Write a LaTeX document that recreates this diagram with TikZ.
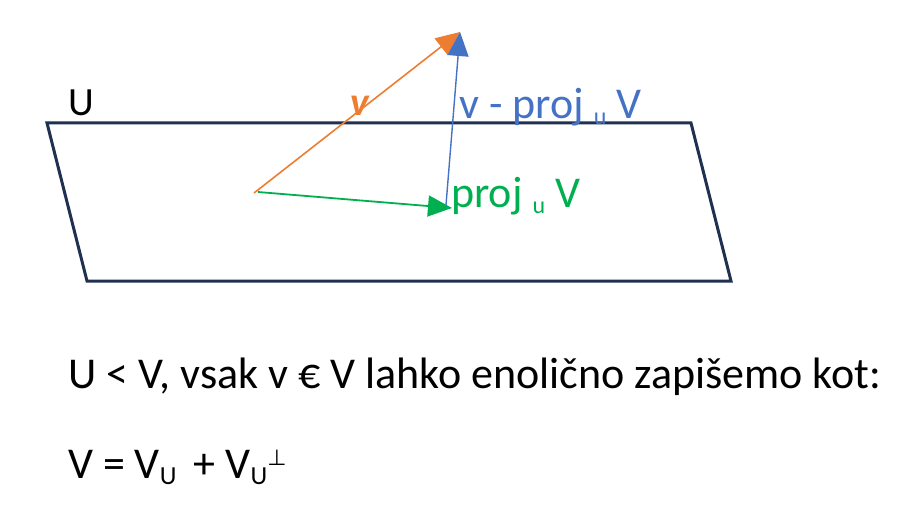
\documentclass[tikz,border=0pt]{standalone}
\usepackage{fontspec}
\setmainfont{Carlito}
\newfontfamily\symfont{DejaVu Sans}
\usetikzlibrary{arrows.meta}

\definecolor{planeblue}{RGB}{31,48,80}
\definecolor{vorange}{RGB}{237,125,49}
\definecolor{vblue}{RGB}{68,114,196}
\definecolor{vgreen}{RGB}{0,176,80}

\newcommand{\bigtext}{\fontsize{44pt}{52pt}\selectfont}
\newcommand{\lowsub}[1]{\raisebox{-6pt}{\fontsize{24pt}{26pt}\selectfont #1}}

\tikzset{
  lbl/.style={inner sep=0pt, anchor=base west, font=\bigtext},
  vec/.style={-{Triangle[length=24pt,width=21pt]}}
}

\begin{document}
\begin{tikzpicture}[x=1pt, y=-1pt]
\useasboundingbox (0, 0) rectangle (920, 513);

% the plane U
\draw[planeblue, line width=3pt, line join=miter]
  (47, 123) -- (691, 123) -- (731, 281) -- (87, 281) -- cycle;
\node[lbl, font=\fontsize{40pt}{48pt}\selectfont] (lblU) at (68, 116) {U};

% vectors
\coordinate (orig) at (254, 193);
\coordinate (top) at (460, 32);
\coordinate (proj) at (452, 208);
\coordinate (projfoot) at (446, 205);

\draw[vec, vorange, line width=1.6pt] (orig) -- (top);
\draw[vec, vgreen, line width=1.8pt] (258, 192) -- (proj);
\draw[vec, vblue, line width=1.4pt] (projfoot) -- (top);

\node[lbl, vorange, font=\fontsize{40pt}{48pt}\selectfont\bfseries\itshape] (lblv) at (350, 116) {v};
\node[lbl, vblue] (lblperp) at (459, 119) {v - proj \lowsub{u} V};
\node[lbl, vgreen] (lblproj) at (451, 207) {proj \lowsub{u} V};

% text below
\node[lbl] (line1) at (68, 388) {U < V, vsak v € V lahko enolično zapišemo kot:};
\node[lbl] (line2) at (68, 478)
  {V = V\raisebox{-6pt}{\fontsize{26pt}{28pt}\selectfont U}\,\ + V\raisebox{-6pt}{\fontsize{26pt}{28pt}\selectfont U}\raisebox{13pt}{\fontsize{22pt}{24pt}\symfont ⊥}};
\end{tikzpicture}
\end{document}
